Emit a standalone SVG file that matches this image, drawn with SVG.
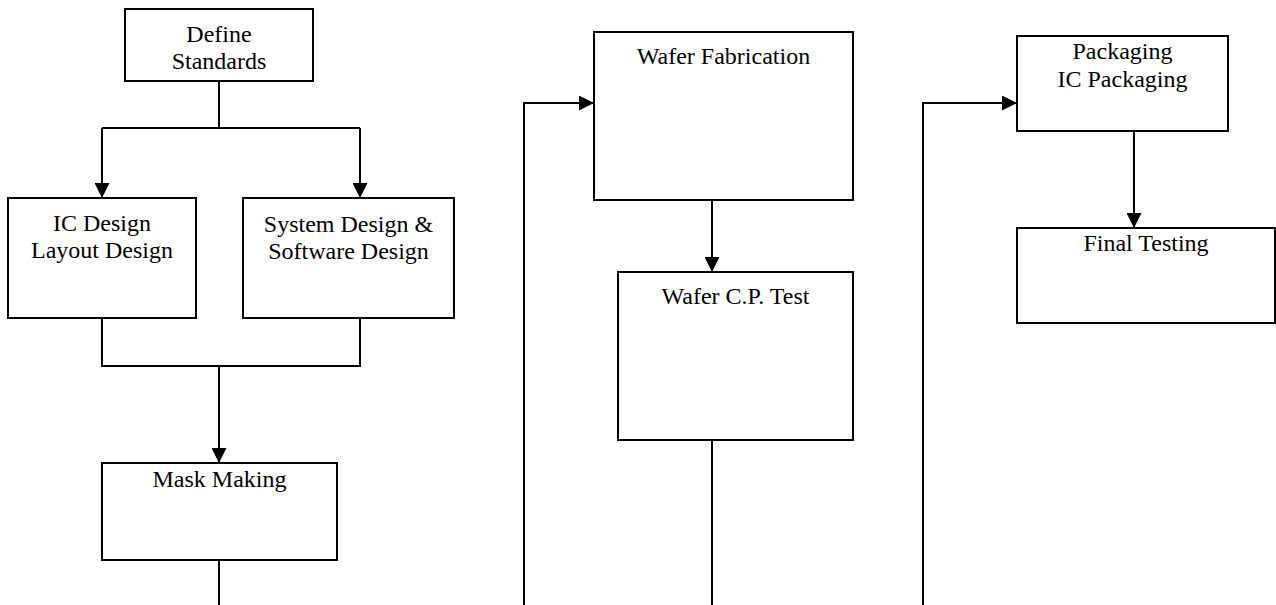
<svg xmlns="http://www.w3.org/2000/svg" width="1276" height="605" viewBox="0 0 1276 605">
<style>
.box{fill:#fff;stroke:#000;stroke-width:2}
.ln{fill:none;stroke:#000;stroke-width:2}
.t{font-family:'Liberation Serif','Times New Roman',serif;font-size:24px;fill:#000;text-anchor:middle}
</style>
<defs>
<marker id="ah" viewBox="0 0 15 15" refX="15" refY="7.5" markerWidth="15" markerHeight="15" markerUnits="userSpaceOnUse" orient="auto">
<path d="M0,0 L15,7.5 L0,15 Z" fill="#000"/>
</marker>
</defs>
<rect width="1276" height="605" fill="#fff"/>
<g id="connectors">
<path class="ln" d="M219,81 V128"/>
<path class="ln" d="M102,128 H360"/>
<path class="ln" d="M102,128 V198" marker-end="url(#ah)"/>
<path class="ln" d="M360,128 V198" marker-end="url(#ah)"/>
<path class="ln" d="M102,318 V366 H360 V318"/>
<path class="ln" d="M219,366 V463" marker-end="url(#ah)"/>
<path class="ln" d="M219,560 V605"/>
<path class="ln" d="M524,605 V103 H594" marker-end="url(#ah)"/>
<path class="ln" d="M712,200 V272" marker-end="url(#ah)"/>
<path class="ln" d="M712,440 V605"/>
<path class="ln" d="M923,605 V103 H1017" marker-end="url(#ah)"/>
<path class="ln" d="M1134,131 V228" marker-end="url(#ah)"/>
</g>
<g id="define-standards">
<rect class="box" x="125" y="9" width="188" height="72"/>
<text class="t" x="219" y="42">Define</text>
<text class="t" x="219" y="69">Standards</text>
</g>
<g id="ic-design">
<rect class="box" x="8" y="198" width="188" height="120"/>
<text class="t" x="102" y="231">IC Design</text>
<text class="t" x="102" y="258">Layout Design</text>
</g>
<g id="system-design">
<rect class="box" x="243" y="198" width="211" height="120"/>
<text class="t" x="348.5" y="232">System Design &amp;</text>
<text class="t" x="348.5" y="259">Software Design</text>
</g>
<g id="mask-making">
<rect class="box" x="102" y="463" width="235" height="97"/>
<text class="t" x="219.5" y="487">Mask Making</text>
</g>
<g id="wafer-fabrication">
<rect class="box" x="594" y="32" width="259" height="168"/>
<text class="t" x="723.5" y="64">Wafer Fabrication</text>
</g>
<g id="wafer-cp-test">
<rect class="box" x="618" y="272" width="235" height="168"/>
<text class="t" x="735.5" y="304">Wafer C.P. Test</text>
</g>
<g id="packaging">
<rect class="box" x="1017" y="36" width="211" height="95"/>
<text class="t" x="1122.5" y="59">Packaging</text>
<text class="t" x="1122.5" y="87">IC Packaging</text>
</g>
<g id="final-testing">
<rect class="box" x="1017" y="228" width="258" height="95"/>
<text class="t" x="1146" y="251">Final Testing</text>
</g>
</svg>
